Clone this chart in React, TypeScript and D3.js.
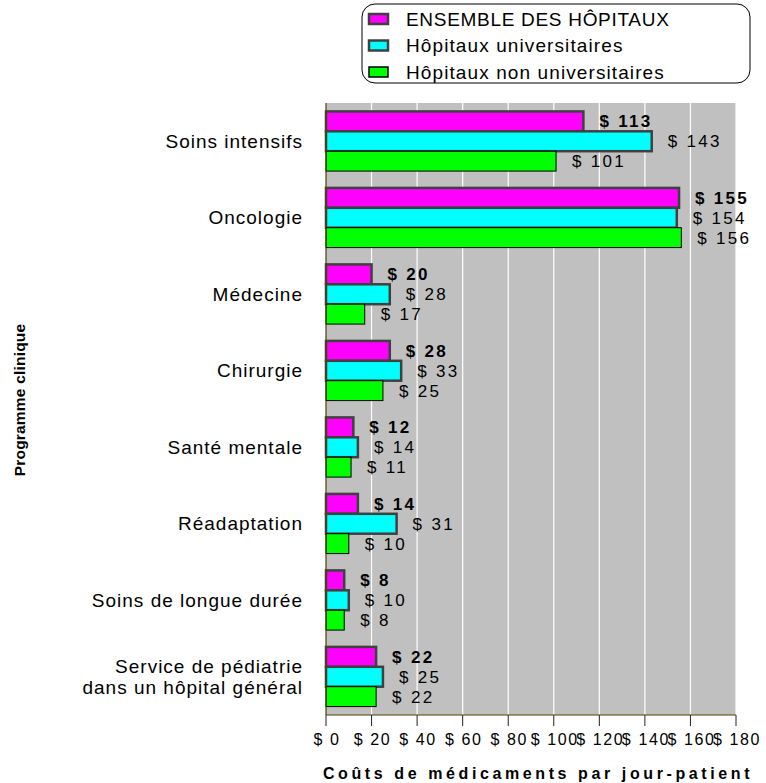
import React from "react";
import * as d3 from "d3";

const categories = [
  ["Soins intensifs"],
  ["Oncologie"],
  ["Médecine"],
  ["Chirurgie"],
  ["Santé mentale"],
  ["Réadaptation"],
  ["Soins de longue durée"],
  ["Service de pédiatrie", "dans un hôpital général"],
];
const seriesNames = ["ENSEMBLE DES HÔPITAUX", "Hôpitaux universitaires", "Hôpitaux non universitaires"];
const ensemble = [113, 155, 20, 28, 12, 14, 8, 22];
const universitaires = [143, 154, 28, 33, 14, 31, 10, 25];
const nonUniversitaires = [101, 156, 17, 25, 11, 10, 8, 22];
const xTicks = [0, 20, 40, 60, 80, 100, 120, 140, 160, 180];

const colors = ["#ff00ff", "#00ffff", "#00ff00"];
const strokes = ["#404040", "#404040", "#000000"];
const strokeW = [2.5, 2.5, 1];

export default function App() {
  const W = 766, H = 783;
  const left = 326, right = 736, top = 103, bottom = 715;
  const x = d3.scaleLinear().domain([0, 180]).range([left, right]);
  const y0 = d3.scaleBand().domain(categories.map((_, i) => String(i))).range([top, bottom]).paddingInner(0.22).paddingOuter(0.11);
  const y1 = d3.scaleBand().domain(["0", "1", "2"]).range([0, y0.bandwidth()]).padding(0);
  const series = [ensemble, universitaires, nonUniversitaires];
  const font = "'Liberation Sans', Arial, sans-serif";

  return (
    <svg width={W} height={H} style={{ position: "absolute", left: 0, top: 0, background: "#fff" }} fontFamily={font}>
      <rect x={left} y={top} width={right - left} height={bottom - top} fill="#c0c0c0" />
      {xTicks.slice(1).map((t) => (
        <line key={t} x1={x(t)} x2={x(t)} y1={top} y2={bottom} stroke="#ffffff" strokeWidth={1.2} />
      ))}
      {categories.map((cat, i) => {
        const gy = y0(String(i))!;
        return (
          <g key={i}>
            {series.map((s, j) => {
              const by = gy + y1(String(j))!;
              const bh = y1.bandwidth();
              return (
                <g key={j}>
                  <rect x={x(0)} y={by} width={x(s[i]) - x(0)} height={bh} fill={colors[j]} stroke={strokes[j]} strokeWidth={strokeW[j]} />
                  <text x={x(s[i]) + 16} y={by + bh / 2} dy="0.36em" fontSize={17} letterSpacing={2.3} fontWeight={j === 0 ? "bold" : "normal"} fill="#000">
                    {"$ " + s[i]}
                  </text>
                </g>
              );
            })}
            <text x={303} y={gy + y0.bandwidth() / 2} textAnchor="end" fontSize={19} letterSpacing={1} fill="#000">
              {cat.map((line, k) => (
                <tspan key={k} x={303} dy={k === 0 ? `${0.35 - (cat.length - 1) * 0.55}em` : "1.1em"}>{line}</tspan>
              ))}
            </text>
          </g>
        );
      })}
      <line x1={left} x2={left} y1={top} y2={bottom} stroke="#4d4000" strokeWidth={1.2} />
      <line x1={left} x2={right} y1={bottom} y2={bottom} stroke="#4d4000" strokeWidth={1.2} />
      {xTicks.map((t) => (
        <g key={t}>
          <line x1={x(t)} x2={x(t)} y1={bottom} y2={bottom + 11} stroke="#222" strokeWidth={1} />
          <text x={x(t) + 1} y={745} textAnchor="middle" fontSize={16} letterSpacing={1.6} fill="#000">{"$ " + t}</text>
        </g>
      ))}
      <text x={538} y={779} textAnchor="middle" fontSize={16} fontWeight="bold" letterSpacing={3.6}>Coûts de médicaments par jour-patient</text>
      <text transform="translate(25,400) rotate(-90)" textAnchor="middle" fontSize={15.5} fontWeight="bold" letterSpacing={0.2}>Programme clinique</text>
      <rect x={362} y={4} width={388} height={79} rx={13} ry={13} fill="#fff" stroke="#000" strokeWidth={1} />
      {seriesNames.map((n, j) => (
        <g key={n}>
          <rect x={369} y={14 + j * 26.5} width={19} height={10} fill={colors[j]} stroke={strokes[j]} strokeWidth={strokeW[j] === 1 ? 1.5 : 2.5} />
          <text x={406} y={19 + j * 26.5} dy="0.36em" fontSize={19} fill="#000" letterSpacing={j === 0 ? 0.7 : 1.1}>{n}</text>
        </g>
      ))}
    </svg>
  );
}
